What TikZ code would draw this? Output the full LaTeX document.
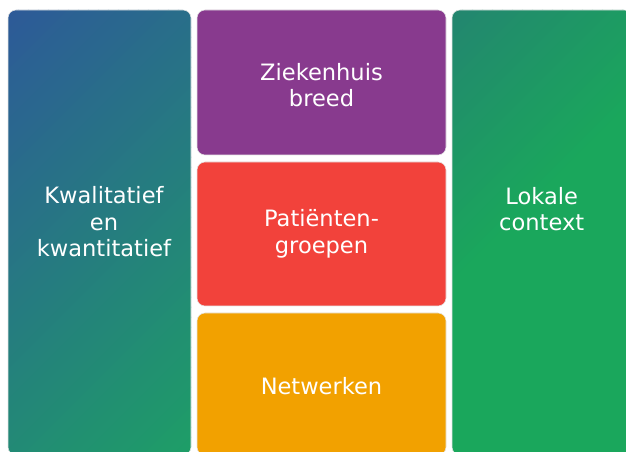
\documentclass[tikz,border=0pt]{standalone}
\usepackage{fontspec}
\setmainfont{DejaVu Sans}

\definecolor{kwblauw}{HTML}{2D5A98}
\definecolor{kwgroen}{HTML}{1E9E67}
\definecolor{lokteal}{HTML}{23866F}
\definecolor{lokgroen}{HTML}{1AA75C}
\definecolor{zhpaars}{HTML}{883A8E}
\definecolor{ptrood}{HTML}{F2423B}
\definecolor{nworanje}{HTML}{F2A100}

\begin{document}
\begin{tikzpicture}[x=0.75pt, y=-0.75pt,
	blok/.style={rounded corners=6pt, draw=black!10, line width=0.4pt},
	tekst/.style={text=white, inner sep=0pt, align=center, font=\fontsize{16.9}{19.9}\selectfont}]

	\useasboundingbox (0,0) rectangle (626,452);
	\clip (0,0) rectangle (626,452);

	% linker kolom, verloop blauw -> groen
	\begin{scope}
		\clip [rounded corners=6pt] (8,10) rectangle (191,455);
		\foreach \s in {0,...,62} {
			\pgfmathsetmacro\mix{100*\s/62}
			\fill [kwgroen!\mix!kwblauw] (18+10*\s,0) -- ++(11,0) -- ++(-470,470) -- ++(-11,0) -- cycle;
		}
	\end{scope}
	\draw [blok] (8,10) rectangle (191,455);

	% rechter kolom, verloop teal -> groen
	\begin{scope}
		\clip [rounded corners=6pt] (452,10) rectangle (632,455);
		\fill [lokgroen] (452,10) rectangle (632,455);
		\foreach \s in {0,...,27} {
			\pgfmathsetmacro\mix{100*\s/27}
			\fill [lokgroen!\mix!lokteal] (462+10*\s,0) -- ++(11,0) -- ++(-470,470) -- ++(-11,0) -- cycle;
		}
	\end{scope}
	\draw [blok] (452,10) rectangle (632,455);

	% middelste kolom
	\fill [blok, fill=zhpaars] (197,10) rectangle (446,155);
	\fill [blok, fill=ptrood] (197,162) rectangle (446,306);
	\fill [blok, fill=nworanje] (197,313) rectangle (446,455);

	\node [tekst] (kwal) at (104,222) {Kwalitatief\\en\\kwantitatief};
	\node [tekst] (zieken) at (321.5,85) {Ziekenhuis\\breed};
	\node [tekst] (patient) at (321.5,234) {Patiënten-\\groepen};
	\node [tekst] (netw) at (321.5,386) {Netwerken};
	\node [tekst] (lokaal) at (541.7,209) {Lokale\\context};

\end{tikzpicture}
\end{document}
